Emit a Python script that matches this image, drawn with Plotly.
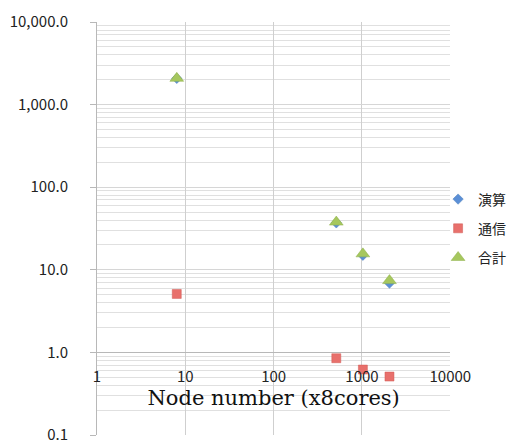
import plotly.graph_objects as go

x_nodes = [8, 512, 1024, 2048]
calc = [2075, 37.0, 15.0, 6.9]
comm = [5.1, 0.85, 0.62, 0.51]
total = [2080, 37.8, 15.6, 7.4]

series_names = ["演算", "通信", "合計"]
y_tickvals = [0.1, 1, 10, 100, 1000, 10000]
y_ticktext = ["0.1", "1.0", "10.0", "100.0", "1,000.0", "10,000.0"]
x_tickvals = [1, 10, 100, 1000, 10000]
x_ticktext = ["1", "10", "100", "1000", "10000"]
x_title = "Node number (x8cores)"

minor_vals = [m * 10 ** k for k in range(-1, 4) for m in range(2, 10)]

sans = "Noto Sans CJK JP, Noto Sans, sans-serif"

fig = go.Figure()
fig.add_trace(go.Scatter(x=x_nodes, y=calc, mode="markers", name=series_names[0],
                         legendgroup="a",
                         marker=dict(symbol="diamond", size=8, color="#5b8fd6",
                                     line=dict(width=0.5, color="#4a7ebb"))))
fig.add_trace(go.Scatter(x=x_nodes, y=comm, mode="markers", name=series_names[1],
                         legendgroup="b",
                         marker=dict(symbol="square", size=9, color="#e8706c",
                                     line=dict(width=0.5, color="#d05a55"))))
fig.add_trace(go.Scatter(x=x_nodes, y=total, mode="markers", name=series_names[2],
                         legendgroup="c",
                         marker=dict(symbol="triangle-up", size=12, color="#a6c75e",
                                     line=dict(width=0.5, color="#8fb04a"))))

# page body has an 8px margin: figure 507x434 placed at (8, 8)
fig.update_layout(
    width=507, height=434,
    margin=dict(l=89, r=0, t=14, b=7, autoexpand=False),
    paper_bgcolor="white", plot_bgcolor="white",
    font=dict(family=sans, size=14, color="#222"),
    showlegend=True,
    legend=dict(x=0.816, y=0.50, xanchor="left", yanchor="middle",
                traceorder="grouped", tracegroupgap=8,
                font=dict(family=sans, size=14, color="#222"),
                itemwidth=30, bgcolor="rgba(0,0,0,0)"),
    xaxis=dict(type="log", range=[0, 4], anchor="free", position=0.2,
               domain=[0, 353.3 / 418], automargin=False,
               tickvals=x_tickvals, ticktext=x_ticktext, ticks="",
               ticklabelstandoff=11,
               tickfont=dict(family=sans, size=15, color="#222"),
               showgrid=True, gridcolor="#cfcfcf", gridwidth=1,
               showline=True, linecolor="#b8b8b8", linewidth=1,
               zeroline=False,
               title=dict(text=x_title, standoff=0,
                          font=dict(family="DejaVu Serif, serif", size=21, color="#111"))),
    yaxis=dict(type="log", range=[-1, 4], automargin=False,
               tickvals=y_tickvals, ticktext=y_ticktext,
               ticks="outside", ticklen=6, tickcolor="#b8b8b8",
               ticklabelstandoff=19, ticklabeloverflow="allow",
               tickfont=dict(family=sans, size=15, color="#222"),
               showgrid=True, gridcolor="#d6d6d6", gridwidth=1,
               minor=dict(tickvals=minor_vals, showgrid=True, gridcolor="#e0e0e0",
                          gridwidth=1, ticks=""),
               showline=True, linecolor="#b8b8b8", linewidth=1,
               zeroline=False),
)

fig.write_html("out.html")
